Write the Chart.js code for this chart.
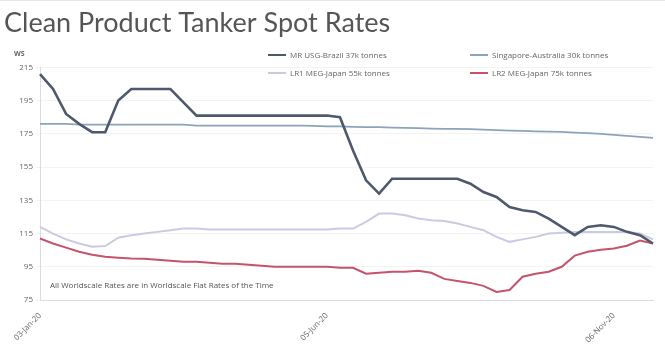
<!DOCTYPE html>
<html>
<head>
<meta charset="utf-8">
<script src="https://cdn.jsdelivr.net/npm/chart.js@4.4.1/dist/chart.umd.min.js"></script>
<style>
  html, body { margin: 0; padding: 0; background: #fff; }
  #wrap { position: relative; width: 665px; height: 360px; box-sizing: border-box; border-top: 1px solid #e4e4e4; }
  #legenda {
    position: absolute; left: 268px; top: 48px; width: 390px;
    display: grid; grid-template-columns: 202px 188px; row-gap: 7px;
    font: 8px "Open Sans", sans-serif; color: #666;
  }
  #legenda .item { display: flex; align-items: center; white-space: nowrap; }
  #legenda .marca { display: inline-block; width: 18px; height: 2px; margin-right: 4px; }
</style>
</head>
<body>
<div id="wrap">
  <canvas id="grafico" width="665" height="359"></canvas>
  <div id="legenda"></div>
</div>
<script>
// Semanas (sexta-feira) de 2020
const semanas = [
  "03-Jan-20", "10-Jan-20", "17-Jan-20", "24-Jan-20", "31-Jan-20",
  "07-Feb-20", "14-Feb-20", "21-Feb-20", "28-Feb-20",
  "06-Mar-20", "13-Mar-20", "20-Mar-20", "27-Mar-20",
  "03-Apr-20", "10-Apr-20", "17-Apr-20", "24-Apr-20",
  "01-May-20", "08-May-20", "15-May-20", "22-May-20", "29-May-20",
  "05-Jun-20", "12-Jun-20", "19-Jun-20", "26-Jun-20",
  "03-Jul-20", "10-Jul-20", "17-Jul-20", "24-Jul-20", "31-Jul-20",
  "07-Aug-20", "14-Aug-20", "21-Aug-20", "28-Aug-20",
  "04-Sep-20", "11-Sep-20", "18-Sep-20", "25-Sep-20",
  "02-Oct-20", "09-Oct-20", "16-Oct-20", "23-Oct-20", "30-Oct-20",
  "06-Nov-20", "13-Nov-20", "20-Nov-20", "27-Nov-20"
];

// Nomes das rotas
const rotas = [
  "MR USG-Brazil 37k tonnes",
  "Singapore-Australia 30k tonnes",
  "LR1 MEG-Japan 55k tonnes",
  "LR2 MEG-Japan 75k tonnes"
];

// Taxas em Worldscale (WS)
const mrUsgBrasil = [
  211, 202, 187, 181, 176, 176, 195, 202, 202, 202,
  202, 194, 186, 186, 186, 186, 186, 186, 186, 186,
  186, 186, 186, 185, 165, 147, 139, 148, 148, 148,
  148, 148, 148, 145, 140, 137, 131, 129, 128, 124,
  119, 114, 119, 120, 119, 116, 114, 109
];
const singAustralia = [
  181, 181, 181, 180.5, 180.5, 180.5, 180.5, 180.5, 180.5, 180.5,
  180.5, 180.5, 180, 180, 180, 180, 180, 180, 180, 180,
  180, 179.8, 179.5, 179.5, 179.2, 179, 179, 178.8, 178.6, 178.4,
  178.2, 178, 178, 177.8, 177.6, 177.3, 177, 176.8, 176.5, 176.3,
  176.2, 175.8, 175.4, 175, 174.4, 173.8, 173.2, 172.6
];
const lr1MegJapao = [
  119, 115, 111.5, 109, 107, 107.5, 112.5, 114, 115, 116,
  117, 118, 118, 117.5, 117.5, 117.5, 117.5, 117.5, 117.5, 117.5,
  117.5, 117.5, 117.5, 118, 118, 122, 127, 127, 126, 124,
  123, 122.5, 121, 119, 117, 113, 110, 111.5, 113, 115,
  115.5, 116, 116, 116, 116, 116, 115, 111.5
];
const lr2MegJapao = [
  112, 109, 106.5, 104, 102.3, 101, 100.5, 100, 99.8, 99.2,
  98.6, 98, 98, 97.4, 96.8, 96.8, 96.2, 95.6, 95, 95,
  95, 95, 95, 94.4, 94.4, 90.8, 91.4, 92, 92, 92.6,
  91.4, 87.7, 86.5, 85.3, 83.5, 79.8, 81, 89, 90.8, 92,
  95, 101.7, 104, 105.3, 106, 107.7, 110.8, 109
];

// Marcas do eixo Y
const ticksY = [75, 95, 115, 135, 155, 175, 195, 215];

const cores = ["#4f596d", "#8ea3bb", "#c9cbe0", "#c4546c"];
const espessuras = [2.6, 1.8, 2, 2];

const series = [mrUsgBrasil, singAustralia, lr1MegJapao, lr2MegJapao];

// Legenda em duas colunas
const legenda = document.getElementById("legenda");
rotas.forEach((nome, idx) => {
  const item = document.createElement("div");
  item.className = "item";
  item.innerHTML = `<span class="marca" style="background:${cores[idx]}"></span>${nome}`;
  legenda.appendChild(item);
});

// Textos extras: "WS" sobre o eixo e a nota de rodapé
const textosExtras = {
  id: "textosExtras",
  afterDraw(chart) {
    const { ctx, chartArea } = chart;
    ctx.save();
    ctx.fillStyle = "#666";
    ctx.font = "bold 7px 'Open Sans', sans-serif";
    ctx.textAlign = "left";
    ctx.textBaseline = "middle";
    ctx.fillText("WS", 14, chartArea.top - 13);
    ctx.font = "8px 'Open Sans', sans-serif";
    ctx.fillStyle = "#555";
    ctx.fillText("All Worldscale Rates are in Worldscale Flat Rates of the Time", chartArea.left + 10, chartArea.bottom - 14);
    ctx.restore();
  }
};

const ctx = document.getElementById("grafico").getContext("2d");
new Chart(ctx, {
  type: "line",
  data: {
    labels: semanas,
    datasets: series.map((valores, idx) => ({
      label: rotas[idx],
      data: valores,
      borderColor: cores[idx],
      borderWidth: espessuras[idx],
      pointRadius: 0,
      tension: 0,
      fill: false,
      order: idx
    }))
  },
  options: {
    responsive: false,
    animation: false,
    layout: { padding: { left: 4, right: 12, top: 0, bottom: 4 } },
    plugins: {
      legend: { display: false },
      tooltip: { enabled: false },
      title: {
        display: true,
        text: "Clean Product Tanker Spot Rates",
        align: "start",
        color: "#555",
        font: { family: "Lato", size: 27, weight: "normal" },
        padding: { top: 6, bottom: 28 }
      }
    },
    scales: {
      x: {
        grid: { display: false },
        border: { color: "#dcdcdc" },
        ticks: {
          autoSkip: false,
          maxRotation: 45,
          minRotation: 45,
          color: "#666",
          font: { family: "Open Sans", size: 8 },
          callback: function(val, idx) {
            return idx % 22 === 0 ? this.getLabelForValue(val) : "";
          }
        },
        afterFit: scale => { scale.height = 56; }
      },
      y: {
        min: 75,
        max: 215,
        afterBuildTicks: scale => { scale.ticks = ticksY.map(v => ({ value: v })); },
        grid: { color: "#f3f3f3", drawTicks: true, tickLength: 4 },
        border: { color: "#dcdcdc" },
        ticks: {
          color: "#666",
          font: { family: "Open Sans", size: 8 },
          padding: 3
        },
        afterFit: scale => { scale.width = 36; }
      }
    }
  },
  plugins: [textosExtras]
});
</script>
</body>
</html>
